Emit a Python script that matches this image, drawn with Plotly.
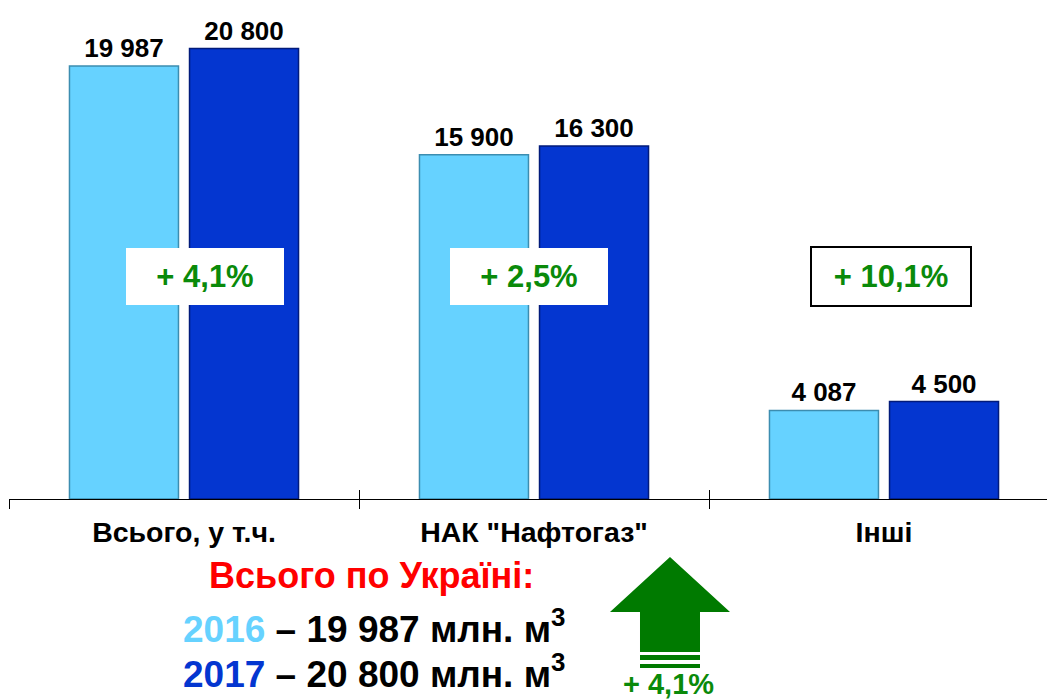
import plotly.graph_objects as go

categories = ["Всього, у т.ч.", "НАК \"Нафтогаз\"", "Інші"]
values_2016 = [19987, 15900, 4087]
values_2017 = [20800, 16300, 4500]
growth_labels = ["+ 4,1%", "+ 2,5%", "+ 10,1%"]
total_title = "Всього по Україні:"
total_2016 = "19 987 млн. м"
total_2017 = "20 800 млн. м"
total_growth = "+ 4,1%"

OFF = 8  # page body margin offset of the figure
W, H = 1055 - OFF, 700 - OFF
ML, MR, MT, MB = 1, 0, 0, 201
PW, PH = W - ML - MR, H - MT - MB
CAT_W = 350.0

FONT = "Liberation Sans, Arial, sans-serif"
LIGHT = "#66D2FF"
DARK = "#0436D0"
GREEN = "#0A8A0A"


def px(x):
    return (x - OFF - ML) / PW


def py(y):
    return (MT + PH - (y - OFF)) / PH


fig = go.Figure()
fig.add_trace(go.Bar(
    x=categories, y=values_2016, name="2016",
    marker=dict(color=LIGHT, line=dict(color="#3C8DB0", width=1.5)),
    texttemplate="%{y:,}", textposition="outside", cliponaxis=False,
    textfont=dict(family=FONT, size=26, color="black", weight=700),
))
fig.add_trace(go.Bar(
    x=categories, y=values_2017, name="2017",
    marker=dict(color=DARK, line=dict(color="#021B7A", width=1.5)),
    texttemplate="%{y:,}", textposition="outside", cliponaxis=False,
    textfont=dict(family=FONT, size=26, color="black", weight=700),
))

# hidden overlay axis for the upward half of the tick marks
fig.add_trace(go.Scatter(x=[0], y=[0], xaxis="x2", mode="markers",
                         marker=dict(opacity=0), showlegend=False, hoverinfo="skip"))

xmax = -0.5 + PW / CAT_W
annotations = []
box_x = [0.06, 0.985, 2.02]
for i, (lab, bx) in enumerate(zip(growth_labels, box_x)):
    annotations.append(dict(
        x=bx, y=py(277), xref="x", yref="paper", text=lab, showarrow=False,
        font=dict(family=FONT, size=31, color=GREEN, weight=700),
        bgcolor="white", width=158, height=57,
        bordercolor="black" if i == 2 else "rgba(0,0,0,0)",
        borderwidth=2 if i == 2 else 0, borderpad=0,
        xanchor="center", yanchor="middle",
    ))

annotations.append(dict(
    x=px(371), y=py(575), xref="paper", yref="paper", text=total_title,
    showarrow=False, xanchor="center", yanchor="middle",
    font=dict(family=FONT, size=36, color="#FF0000", weight=700),
))
annotations.append(dict(
    x=px(374), y=py(626), xref="paper", yref="paper",
    text=f"<span style='color:{LIGHT}'>2016</span> – {total_2016}<sup>3</sup>",
    showarrow=False, xanchor="center", yanchor="middle",
    font=dict(family=FONT, size=37, color="black", weight=700),
))
annotations.append(dict(
    x=px(374), y=py(671), xref="paper", yref="paper",
    text=f"<span style='color:{DARK}'>2017</span> – {total_2017}<sup>3</sup>",
    showarrow=False, xanchor="center", yanchor="middle",
    font=dict(family=FONT, size=37, color="black", weight=700),
))
annotations.append(dict(
    x=px(668), y=py(684), xref="paper", yref="paper", text=total_growth,
    showarrow=False, xanchor="center", yanchor="middle",
    font=dict(family=FONT, size=29, color=GREEN, weight=700),
))


def pth(points):
    return "M " + " L ".join(f"{px(a):.5f},{py(b):.5f}" for a, b in points) + " Z"


shapes = [
    dict(type="path", xref="paper", yref="paper", line=dict(width=0), fillcolor="#007A00",
         path=pth([(670, 557), (730, 612), (700, 612), (700, 652), (640, 652), (640, 612), (610, 612)])),
    dict(type="rect", xref="paper", yref="paper", line=dict(width=0), fillcolor="#007A00",
         x0=px(640), x1=px(700), y0=py(655), y1=py(660)),
    dict(type="rect", xref="paper", yref="paper", line=dict(width=0), fillcolor="#007A00",
         x0=px(640), x1=px(700), y0=py(664), y1=py(668)),
]

fig.update_layout(
    width=W, height=H,
    margin=dict(l=ML, r=MR, t=MT, b=MB, pad=0),
    paper_bgcolor="white", plot_bgcolor="white",
    barmode="group", bargap=0.314, bargroupgap=0.092,
    separators=", ",
    showlegend=False,
    xaxis=dict(
        type="category", range=[-0.5, xmax], showline=True, linecolor="black", linewidth=1,
        ticks="outside", tickson="boundaries", ticklen=9, tickcolor="black", tickwidth=1,
        tickfont=dict(family=FONT, size=28.5, color="black", weight=700),
        ticklabelstandoff=8,
        showgrid=False, zeroline=False, fixedrange=True,
    ),
    xaxis2=dict(
        overlaying="x", anchor="y", side="bottom", range=[-0.5, xmax],
        tickvals=[-0.5, 0.5, 1.5, 2.5], ticks="inside", ticklen=9, tickcolor="black",
        showticklabels=False, showgrid=False, zeroline=False, showline=False,
    ),
    yaxis=dict(range=[0, 22670], visible=False, fixedrange=True),
    annotations=annotations,
    shapes=shapes,
)

fig.write_html("out.html")
